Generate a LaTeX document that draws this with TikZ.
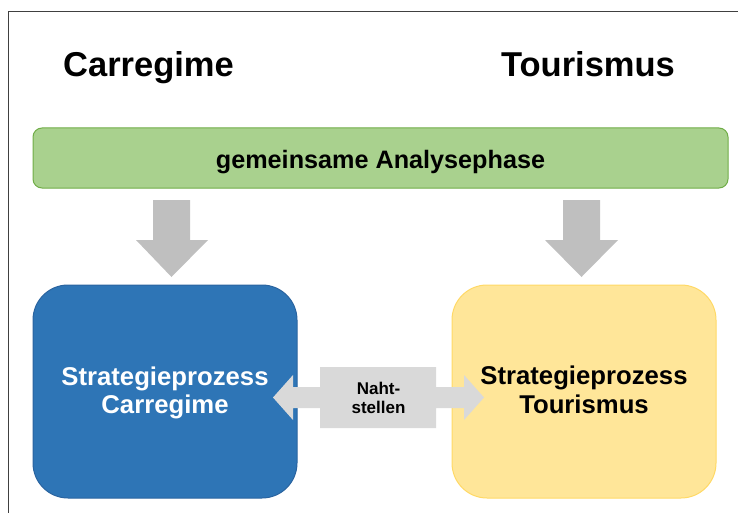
\documentclass[tikz,border=0pt]{standalone}
\usepackage{fontspec}
\setmainfont{Liberation Sans}
\definecolor{greenF}{HTML}{A9D18E}
\definecolor{greenB}{HTML}{70AD47}
\definecolor{blueF}{HTML}{2E75B6}
\definecolor{blueB}{HTML}{2A64A0}
\definecolor{yellowF}{HTML}{FFE699}
\definecolor{yellowB}{HTML}{FFD966}
\definecolor{arrowG}{HTML}{BFBFBF}
\definecolor{arrowL}{HTML}{D9D9D9}
\definecolor{frameC}{HTML}{404040}
\tikzset{
  title/.style={font=\fontsize{34.5}{34.5}\selectfont\bfseries, inner sep=0pt, anchor=base},
  bigbox/.style={rounded corners=35pt, minimum width=264pt, minimum height=213pt, line width=1pt, inner sep=0pt},
  boxtext/.style={font=\fontsize{25.7}{28}\selectfont\bfseries, inner sep=0pt, anchor=base},
  nahttext/.style={font=\fontsize{17}{19}\selectfont\bfseries, inner sep=0pt, anchor=base},
}
\begin{document}
\begin{tikzpicture}[x=1pt,y=-1pt]
\useasboundingbox (0,0) rectangle (738,513);
\draw[frameC, line width=1pt] (8,513) -- (8,12) -- (738,12);

\node[title] (t1) at (148.5,77) {Carregime};
\node[title] (t2) at (588,77) {Tourismus};

\node[draw=greenB, fill=greenF, rounded corners=9pt, minimum width=695pt, minimum height=60pt, line width=1pt, inner sep=0pt] (analyse) at (380.5,158) {};
\node[font=\fontsize{25.2}{25.2}\selectfont\bfseries, inner sep=0pt, anchor=base] (analyseT) at (380.5,168) {gemeinsame Analysephase};

% down arrows
\fill[arrowG] (153,200) -- (190,200) -- (190,240) -- (208,240) -- (171.5,277) -- (136,240) -- (153,240) -- cycle;
\fill[arrowG] (563,200) -- (600,200) -- (600,240) -- (618,240) -- (581.5,277) -- (545,240) -- (563,240) -- cycle;

\node[bigbox, draw=blueB, fill=blueF] (blue) at (165,391.5) {};
\node[bigbox, draw=yellowB, fill=yellowF] (yellow) at (584,391.5) {};
\node[boxtext, text=white] (b1) at (165,385) {Strategieprozess};
\node[boxtext, text=white] (b2) at (165,413) {Carregime};
\node[boxtext] (y1) at (584,384.5) {Strategieprozess};
\node[boxtext] (y2) at (584,413.5) {Tourismus};

% double arrow callout
\fill[arrowL] (273,397.5) -- (293,375) -- (293,387) -- (320,387) -- (320,367) -- (436,367) -- (436,387) -- (464,387) -- (464,375) -- (484,397.5) -- (464,420) -- (464,408) -- (436,408) -- (436,428) -- (320,428) -- (320,408) -- (293,408) -- (293,420) -- cycle;
\node[nahttext] (n1) at (378.5,394) {Naht-};
\node[nahttext] (n2) at (378.5,413) {stellen};
\end{tikzpicture}
\end{document}
